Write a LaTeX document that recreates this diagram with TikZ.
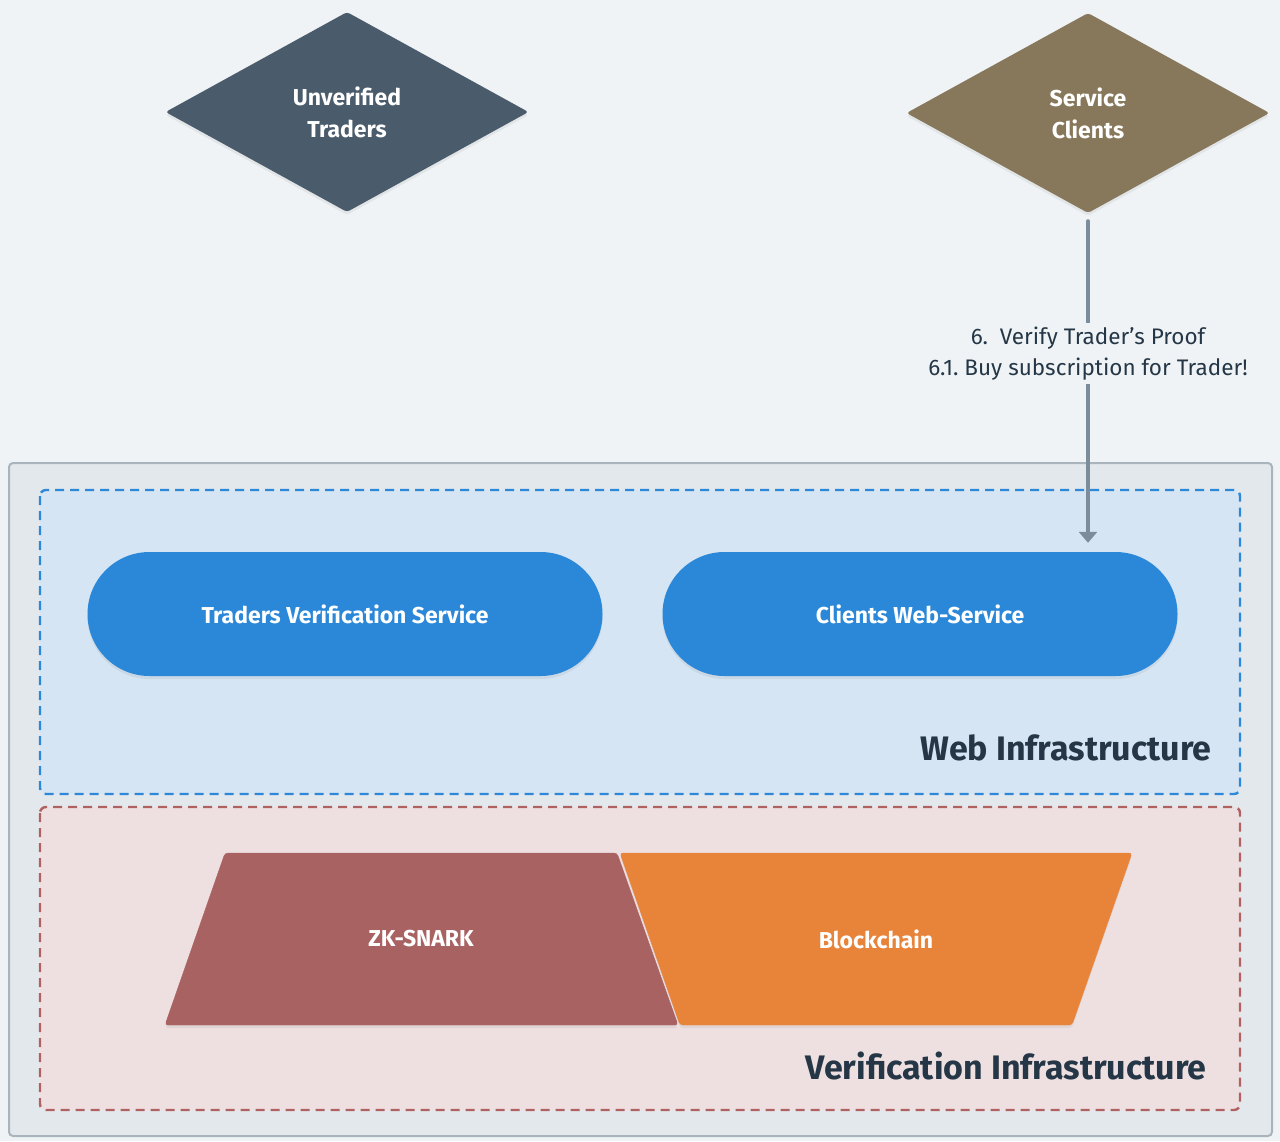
\documentclass[tikz,border=0pt]{standalone}
\usepackage{fontspec}
\setmainfont{Fira Sans}
\usepackage{xcolor}
\usepackage{tikz}
\usetikzlibrary{shapes.geometric,arrows.meta,positioning,shadows}
\frenchspacing

\definecolor{bgcol}{HTML}{EFF3F6}
\definecolor{outerfill}{HTML}{E3E8EC}
\definecolor{outerline}{HTML}{A9B4BD}
\definecolor{webfill}{HTML}{D5E5F4}
\definecolor{webline}{HTML}{2E88D8}
\definecolor{verifill}{HTML}{EEE0E1}
\definecolor{veriline}{HTML}{B06161}
\definecolor{pillblue}{HTML}{2B88D8}
\definecolor{tradercol}{HTML}{4A5B6B}
\definecolor{clientcol}{HTML}{87775B}
\definecolor{zkcol}{HTML}{A96262}
\definecolor{bccol}{HTML}{E8833A}
\definecolor{infratext}{HTML}{253746}
\definecolor{flowcol}{HTML}{7D8C9A}

\begin{document}
\begin{tikzpicture}[x=1pt,y=-1pt,
    softshadow/.style={drop shadow={opacity=0.12,shadow xshift=0pt,shadow yshift=-3pt}},
    boxlabel/.style={text=white,font=\bfseries\fontsize{23}{32}\selectfont,align=center},
    decision/.style={diamond,minimum width=363pt,minimum height=200pt,inner sep=0pt,rounded corners=3pt,softshadow,boxlabel},
    pill/.style={rectangle,rounded corners=62pt,fill=pillblue,minimum width=515pt,minimum height=124pt,inner sep=0pt,softshadow,boxlabel},
    infralabel/.style={text=infratext,font=\bfseries\fontsize{34}{40}\selectfont,anchor=east},
    flow/.style={draw=flowcol,line width=4pt,line cap=round,-{Triangle[width=18pt,length=11pt]}}]
            \useasboundingbox (0,0) rectangle (1280,1141);
            \fill[bgcol] (0,0) rectangle (1280,1141);
            \filldraw[fill=outerfill,draw=outerline,line width=2pt,rounded corners=4pt] (9,463) rectangle (1272,1136);
            \filldraw[fill=webfill,draw=webline,line width=2.4pt,dash pattern=on 9pt off 6pt,rounded corners=6pt] (40,490) rectangle (1240,794);
            \filldraw[fill=verifill,draw=veriline,line width=2.4pt,dash pattern=on 9pt off 6pt,rounded corners=6pt] (40,807) rectangle (1240,1110);

            \node[decision,fill=tradercol] (traders) at (347,112) {Unverified\\Traders};
            \node[decision,fill=clientcol] (clients) at (1088,113) {Service\\Clients};

            \node[pill] (tvs) at (345,614) {Traders Verification Service};
            \node[pill] (cws) at (920,614) {Clients Web-Service};

            \filldraw[fill=zkcol,draw=zkcol,rounded corners=3pt,softshadow] (225,853) -- (617,853) -- (678,1025) -- (165,1025) -- cycle;
            \filldraw[fill=bccol,draw=bccol,rounded corners=3pt,softshadow] (620,853) -- (1132,853) -- (1072,1025) -- (680,1025) -- cycle;
            \node[boxlabel] (zk) at (421,939) {ZK-SNARK};
            \node[boxlabel] (bc) at (876,939) {Blockchain};

            \node[infralabel] (web) at (1215,748) {Web Infrastructure};
            \node[infralabel] (verif) at (1210,1066) {Verification Infrastructure};

            \draw[flow,shorten <=8pt,shorten >=9pt] (clients.south) -- (clients.south |- cws.north)
                node[pos=0.414,fill=bgcol,inner sep=4pt,align=center,text=infratext,font=\fontsize{22.5}{31}\selectfont] (buy) {6.\ \ Verify Trader’s Proof\\6.1. Buy subscription for Trader!};
\end{tikzpicture}
\end{document}
